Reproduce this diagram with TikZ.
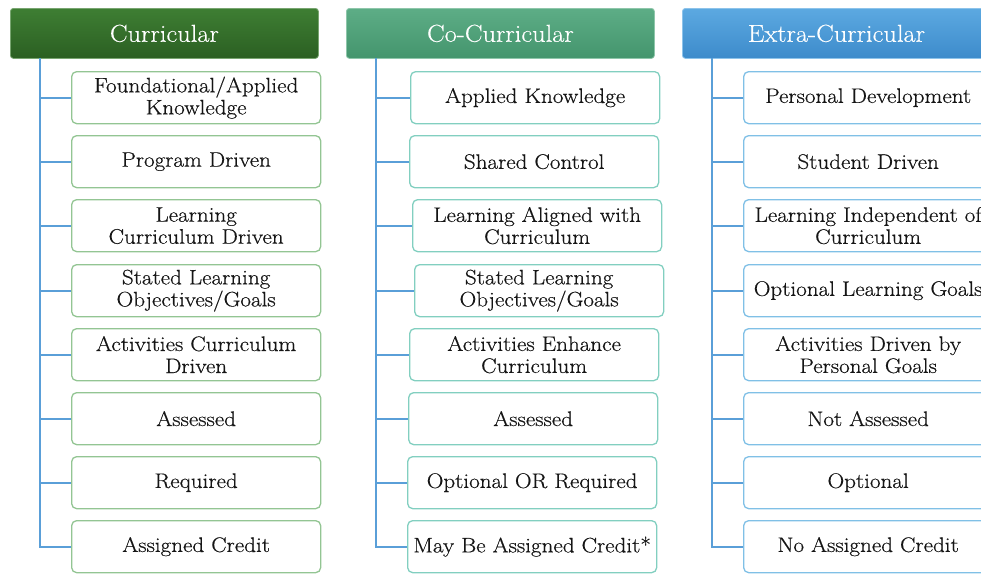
\documentclass[tikz,border=0pt]{standalone}
\usepackage{fontspec}
\newfontfamily\boxfont{Latin Modern Roman}[FakeBold=0.45,FakeStretch=1.1]
\newfontfamily\hdrfont{Latin Modern Roman}[FakeBold=0.3,FakeStretch=1.08]
\definecolor{lineblue}{HTML}{5A9FD8}
\definecolor{hAtop}{HTML}{3E7E33}
\definecolor{hAbot}{HTML}{2B5F22}
\definecolor{hBtop}{HTML}{5DAD86}
\definecolor{hBbot}{HTML}{44956D}
\definecolor{hCtop}{HTML}{5CA9E1}
\definecolor{hCbot}{HTML}{3D8BCB}
\definecolor{bA}{HTML}{93C593}
\definecolor{bB}{HTML}{82CFC0}
\definecolor{bC}{HTML}{80C0E6}
\definecolor{txt}{HTML}{151515}
\begin{document}
\begin{tikzpicture}[x=1pt,y=-1pt,
  hdr/.style={rectangle, rounded corners=3pt, minimum height=50pt, minimum width=308pt,
    anchor=north west, text=white, inner sep=0pt, line width=0.8pt,
    font=\hdrfont\fontsize{24.5}{27}\selectfont},
  item/.style={rectangle, rounded corners=5pt, fill=white, line width=1.3pt,
    minimum height=52pt, minimum width=249pt, text width=247pt, align=center,
    anchor=north west, inner sep=0pt, text=txt, font=\boxfont\fontsize{21}{22}\selectfont},
  itemA/.style={item, draw=bA},
  itemB/.style={item, draw=bB},
  itemC/.style={item, draw=bC},
  conn/.style={draw=lineblue, line width=1.8pt}]
\useasboundingbox (0,0) rectangle (981,574);
\clip (0,0) rectangle (981,574);

% headers
\node[hdr, top color=hAtop, bottom color=hAbot, draw=hAtop!70!white] (h1) at (10,8) {Curricular};
\node[hdr, top color=hBtop, bottom color=hBbot, draw=hBtop!70!white] (h2) at (346,8) {Co-Curricular};
\node[hdr, top color=hCtop, bottom color=hCbot, draw=hCtop!70!white] (h3) at (682,8) {Extra-Curricular};

% column 1
\node[itemA] (a1) at (71,71)  {Foundational/Applied\\Knowledge};
\node[itemA] (a2) at (71,135) {Program Driven};
\node[itemA] (a3) at (71,199) {Learning\\Curriculum Driven};
\node[itemA] (a4) at (71,264) {Stated Learning\\Objectives/Goals};
\node[itemA] (a5) at (71,328) {Activities Curriculum\\Driven};
\node[itemA] (a6) at (71,392) {Assessed};
\node[itemA] (a7) at (71,456) {Required};
\node[itemA] (a8) at (71,520) {Assigned Credit};

% column 2
\node[itemB] (b1) at (410,71)  {Applied Knowledge};
\node[itemB] (b2) at (409,135) {Shared Control};
\node[itemB] (b3) at (412,199) {Learning Aligned with\\Curriculum};
\node[itemB] (b4) at (414,264) {Stated Learning\\Objectives/Goals};
\node[itemB] (b5) at (409,328) {Activities Enhance\\Curriculum};
\node[itemB] (b6) at (408,392) {Assessed};
\node[itemB] (b7) at (407,456) {Optional OR Required};
\node[itemB] (b8) at (407,520) {May Be Assigned Credit*};

% column 3
\node[itemC] (c1) at (743,71)  {Personal Development};
\node[itemC] (c2) at (743,135) {Student Driven};
\node[itemC] (c3) at (743,199) {Learning Independent of\\Curriculum};
\node[itemC] (c4) at (743,264) {Optional Learning Goals};
\node[itemC] (c5) at (743,328) {Activities Driven by\\Personal Goals};
\node[itemC] (c6) at (743,392) {Not Assessed};
\node[itemC] (c7) at (743,456) {Optional};
\node[itemC] (c8) at (743,520) {No Assigned Credit};

% connectors
\coordinate (v1) at (40,58);
\coordinate (v2) at (376,58);
\coordinate (v3) at (712,58);
\draw[conn] (v1) -- (v1 |- a8.west) -- (a8.west);
\draw[conn] (v2) -- (v2 |- b8.west) -- (b8.west);
\draw[conn] (v3) -- (v3 |- c8.west) -- (c8.west);
\foreach \i in {1,...,7} {
  \draw[conn] (v1 |- a\i.west) -- (a\i.west);
  \draw[conn] (v2 |- b\i.west) -- (b\i.west);
  \draw[conn] (v3 |- c\i.west) -- (c\i.west);
}
\end{tikzpicture}
\end{document}
